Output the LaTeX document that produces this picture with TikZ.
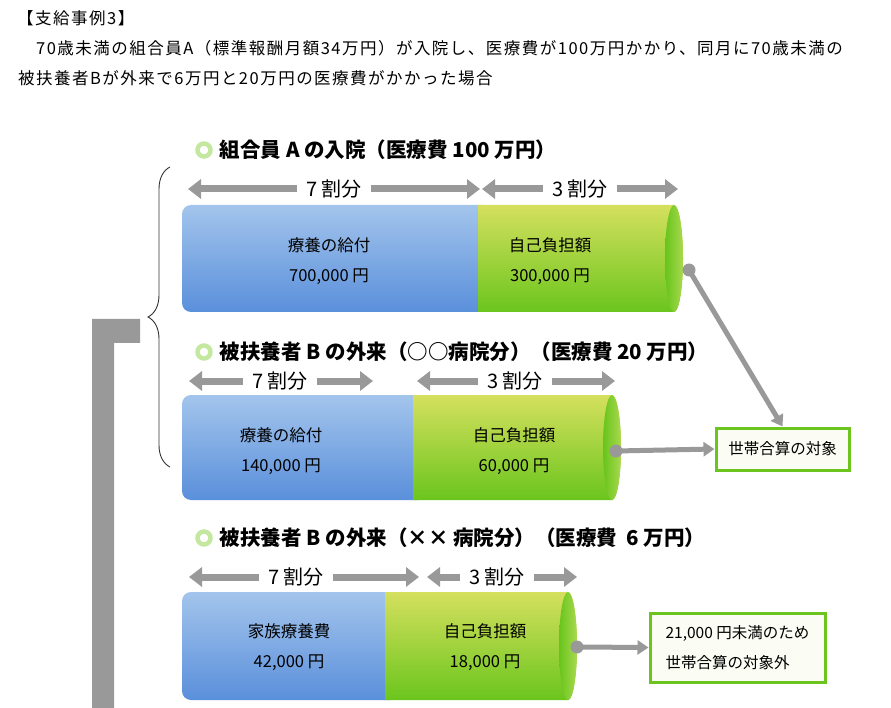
\documentclass[tikz,border=0pt]{standalone}
\usepackage{fontspec}
\setmainfont{Noto Sans CJK JP}
\usetikzlibrary{arrows.meta,positioning,decorations.pathreplacing}

\definecolor{bluetop}{HTML}{A3C5EC}
\definecolor{bluebot}{HTML}{5A8FDB}
\definecolor{greentop}{HTML}{D5E05E}
\definecolor{greenbot}{HTML}{6BC51D}
\definecolor{faceL}{HTML}{67C41C}
\definecolor{faceR}{HTML}{AAD84E}
\definecolor{arrowgray}{HTML}{999999}
\definecolor{ringgreen}{HTML}{C5E8A0}
\definecolor{boxgreen}{HTML}{6CC51F}
\definecolor{boxfill}{HTML}{FBFCF3}
\definecolor{bracegray}{HTML}{333333}

\begin{document}
\begin{tikzpicture}[x=1pt, y=-1pt,
  head/.style={anchor=west, inner sep=0pt,
    font=\fontsize{16.5}{18}\selectfont\addfontfeatures{LetterSpace=9}},
  ring/.style={circle, draw=ringgreen, line width=4.5pt,
    minimum size=13pt, inner sep=0pt},
  sectitle/.style={inner sep=0pt, font=\fontsize{20.5}{24}\selectfont\bfseries},
  dimlbl/.style={inner xsep=9pt, inner ysep=0pt, font=\fontsize{20}{22}\selectfont},
  dimarr/.style={-{Triangle[length=13pt,width=19pt]}, line width=7pt, draw=arrowgray},
  cyltxt/.style={align=center, font=\fontsize{16.5}{30}\selectfont},
  joint/.style={circle, fill=arrowgray, minimum size=13pt, inner sep=0pt},
  conn/.style={-{Triangle[length=11pt,width=14pt]}, line width=5pt, draw=arrowgray},
  note/.style={draw=boxgreen, line width=3pt, fill=boxfill, inner sep=0pt,
    font=\fontsize{15.5}{30}\selectfont},
]
\useasboundingbox (0,0) rectangle (891,708);

%% ---- Heading ----
\node[head] (heading) at (17,18) {【支給事例3】};
\node[head] (intro1)  at (18,48) {　70歳未満の組合員A（標準報酬月額34万円）が入院し、医療費が100万円かかり、同月に70歳未満の};
\node[head] (intro2)  at (18,78) {被扶養者Bが外来で6万円と20万円の医療費がかかった場合};

%% ---- Left bar and brace ----
\fill[arrowgray] (92,319) -- (140,319) -- (140,343) -- (114,343) -- (114,708) -- (92,708) -- cycle;
\coordinate (brtop) at (170,167);
\coordinate (brbot) at (170,467);
\draw[decorate, decoration={brace, amplitude=22pt}, draw=bracegray, line width=0.9pt]
  (brbot) -- (brtop);

%% ---- Section 1: member A, in-patient ----
\node[ring] (s1ring) at (204,150) {};
\node[sectitle, anchor=west, right=7pt of s1ring] (s1title) {組合員 A の入院（医療費 100 万円）};

\coordinate (s1sevenL) at (188,189);
\coordinate (s1sevenR) at (480,189);
\coordinate (s1threeL) at (482,189);
\coordinate (s1threeR) at (678,189);
\node[dimlbl] (s1seven) at (334,189) {7 割分};
\node[dimlbl] (s1three) at (580,189) {3 割分};
\draw[dimarr] (s1seven.west) -- (s1sevenL);
\draw[dimarr] (s1seven.east) -- (s1sevenR);
\draw[dimarr] (s1three.west) -- (s1threeL);
\draw[dimarr] (s1three.east) -- (s1threeR);

\shade[top color=bluetop, bottom color=bluebot, rounded corners=9pt] (182,205) rectangle (492,312);
\shade[top color=greentop, bottom color=greenbot] (478,205) -- (674,205)
  arc[start angle=90, end angle=-90, x radius=9pt, y radius=53.5pt] -- (478,312) -- cycle;
\shade[left color=faceL, right color=faceR] (674,258.5) ellipse[x radius=9pt, y radius=53.5pt];
\node[cyltxt] (s1paid) at (329,261) {療養の給付\\700,000 円};
\node[cyltxt] (s1own)  at (550,261) {自己負担額\\300,000 円};
\node[joint] (s1end) at (689,270) {};

%% ---- Section 2: dependent B, clinic 1 ----
\node[ring] (s2ring) at (204,352) {};
\node[sectitle, anchor=west, right=7pt of s2ring] (s2title) {被扶養者 B の外来（○○病院分）（医療費 20 万円）};

\coordinate (s2sevenL) at (189,381);
\coordinate (s2sevenR) at (373,381);
\coordinate (s2threeL) at (417,381);
\coordinate (s2threeR) at (615,381);
\node[dimlbl] (s2seven) at (280,381) {7 割分};
\node[dimlbl] (s2three) at (515,381) {3 割分};
\draw[dimarr] (s2seven.west) -- (s2sevenL);
\draw[dimarr] (s2seven.east) -- (s2sevenR);
\draw[dimarr] (s2three.west) -- (s2threeL);
\draw[dimarr] (s2three.east) -- (s2threeR);

\shade[top color=bluetop, bottom color=bluebot, rounded corners=9pt] (182,395) rectangle (427,500);
\shade[top color=greentop, bottom color=greenbot] (413,395) -- (612,395)
  arc[start angle=90, end angle=-90, x radius=9pt, y radius=52.5pt] -- (413,500) -- cycle;
\shade[left color=faceL, right color=faceR] (612,447.5) ellipse[x radius=9pt, y radius=52.5pt];
\node[cyltxt] (s2paid) at (281,451) {療養の給付\\140,000 円};
\node[cyltxt] (s2own)  at (514,451) {自己負担額\\60,000 円};
\node[joint] (s2end) at (616,451) {};

%% ---- Section 3: dependent B, clinic 2 ----
\node[ring] (s3ring) at (204,538) {};
\node[sectitle, anchor=west, right=7pt of s3ring] (s3title) {被扶養者 B の外来（×× 病院分）（医療費~~6 万円）};

\coordinate (s3sevenL) at (189,577);
\coordinate (s3sevenR) at (419,577);
\coordinate (s3threeL) at (427,577);
\coordinate (s3threeR) at (577,577);
\node[dimlbl] (s3seven) at (296,577) {7 割分};
\node[dimlbl] (s3three) at (497,577) {3 割分};
\draw[dimarr] (s3seven.west) -- (s3sevenL);
\draw[dimarr] (s3seven.east) -- (s3sevenR);
\draw[dimarr] (s3three.west) -- (s3threeL);
\draw[dimarr] (s3three.east) -- (s3threeR);

\shade[top color=bluetop, bottom color=bluebot, rounded corners=9pt] (182,592) rectangle (399,700);
\shade[top color=greentop, bottom color=greenbot] (385,592) -- (568,592)
  arc[start angle=90, end angle=-90, x radius=9pt, y radius=54pt] -- (385,700) -- cycle;
\shade[left color=faceL, right color=faceR] (568,646) ellipse[x radius=9pt, y radius=54pt];
\node[cyltxt] (s3paid) at (289,647.5) {家族療養費\\42,000 円};
\node[cyltxt] (s3own)  at (485,647.5) {自己負担額\\18,000 円};
\node[joint] (s3end) at (577,647) {};

%% ---- Result boxes ----
\node[note, minimum width=133pt, minimum height=42pt] (total) at (782.5,449) {世帯合算の対象};
\node[note, minimum width=175pt, minimum height=69pt, align=left] (excluded) at (737.5,647.5)
  {21,000 円未満のため\\世帯合算の対象外};

%% ---- Connectors ----
\draw[conn] (s1end.center) -- (total.north);
\draw[conn] (s2end.center) -- (total.west);
\draw[conn] (s3end.center) -- (excluded.west);

\end{tikzpicture}
\end{document}
